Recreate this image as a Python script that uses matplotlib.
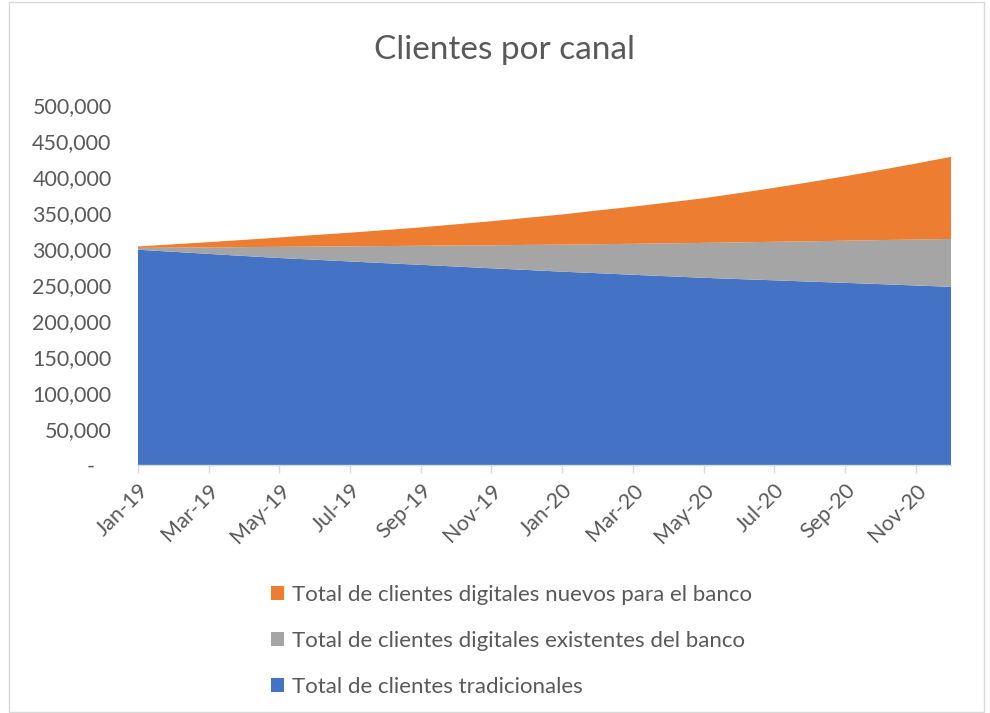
import matplotlib
matplotlib.use("Agg")
import matplotlib.pyplot as plt
from matplotlib.patches import Patch, Rectangle
from matplotlib.ticker import FuncFormatter

months = ["Jan-19", "Feb-19", "Mar-19", "Apr-19", "May-19", "Jun-19", "Jul-19", "Aug-19",
          "Sep-19", "Oct-19", "Nov-19", "Dec-19", "Jan-20", "Feb-20", "Mar-20", "Apr-20",
          "May-20", "Jun-20", "Jul-20", "Aug-20", "Sep-20", "Oct-20", "Nov-20", "Dec-20"]

tradicionales = [299000, 296100, 293200, 290300, 287500, 285100, 282700, 280300,
                 278000, 275600, 273200, 270900, 268500, 266400, 264200, 262100,
                 260000, 258200, 256500, 254700, 253000, 251200, 249300, 247500]

existentes = [2500, 5800, 9000, 12300, 15500, 18300, 21000, 23800,
              26500, 29300, 32000, 34800, 37500, 40300, 43000, 45800,
              48500, 51000, 53500, 56000, 58500, 61200, 63800, 66500]

nuevos = [2000, 4600, 7300, 10100, 13000, 16000, 19000, 22200,
          25500, 29400, 33400, 37600, 42000, 46800, 51600, 56700,
          62000, 68400, 75000, 82100, 89500, 97300, 105500, 114000]

series_names = ["Total de clientes tradicionales",
                "Total de clientes digitales existentes del banco",
                "Total de clientes digitales nuevos para el banco"]
colors = ["#4472C4", "#A5A5A5", "#ED7D31"]

plt.rcParams['font.family'] = ['Lato', 'DejaVu Sans']
text_color = "#595959"

fig = plt.figure(figsize=(9.9, 7.13), dpi=100)
ax = fig.add_axes([138/990, 1 - 465/713, 813/990, 360/713])

x = list(range(len(months)))
ax.stackplot(x, tradicionales, existentes, nuevos, colors=colors, linewidth=0)

ax.set_xlim(0, len(months) - 1)
ax.set_ylim(0, 500000)
ax.set_yticks(range(0, 500001, 50000))
ax.yaxis.set_major_formatter(FuncFormatter(lambda v, p: "-   " if v == 0 else f"{int(v):,}"))
ax.set_xticks(x[::2])
ax.set_xticklabels(months[::2], rotation=45, ha="right", rotation_mode="anchor")

for s in ["top", "right", "left"]:
    ax.spines[s].set_visible(False)
ax.spines["bottom"].set_color("#D9D9D9")
ax.spines["bottom"].set_linewidth(1.0)
ax.tick_params(axis="y", length=0, pad=19, labelsize=15.5, labelcolor=text_color)
ax.tick_params(axis="x", length=6, color="#D9D9D9", width=1, pad=5, labelsize=15.5, labelcolor=text_color)

fig.text(505/990, 1 - 50/713, "Clientes por canal", ha="center", va="center",
         fontsize=24, color=text_color)

handles = [Patch(facecolor=colors[i], edgecolor="none") for i in [2, 1, 0]]
labels = [series_names[i] for i in [2, 1, 0]]
leg = fig.legend(handles, labels, loc="upper left", bbox_to_anchor=(260/990, 1 - 574/713),
                 frameon=False, fontsize=16, labelcolor=text_color, handlelength=0.6,
                 handleheight=0.6, handletextpad=0.35, labelspacing=1.17, borderpad=0)

fig.patches.append(Rectangle((9/990, 0.002), 975/990, 0.995, transform=fig.transFigure,
                             fill=False, edgecolor="#D9D9D9", linewidth=1))

fig.savefig("out.png", dpi=100)
